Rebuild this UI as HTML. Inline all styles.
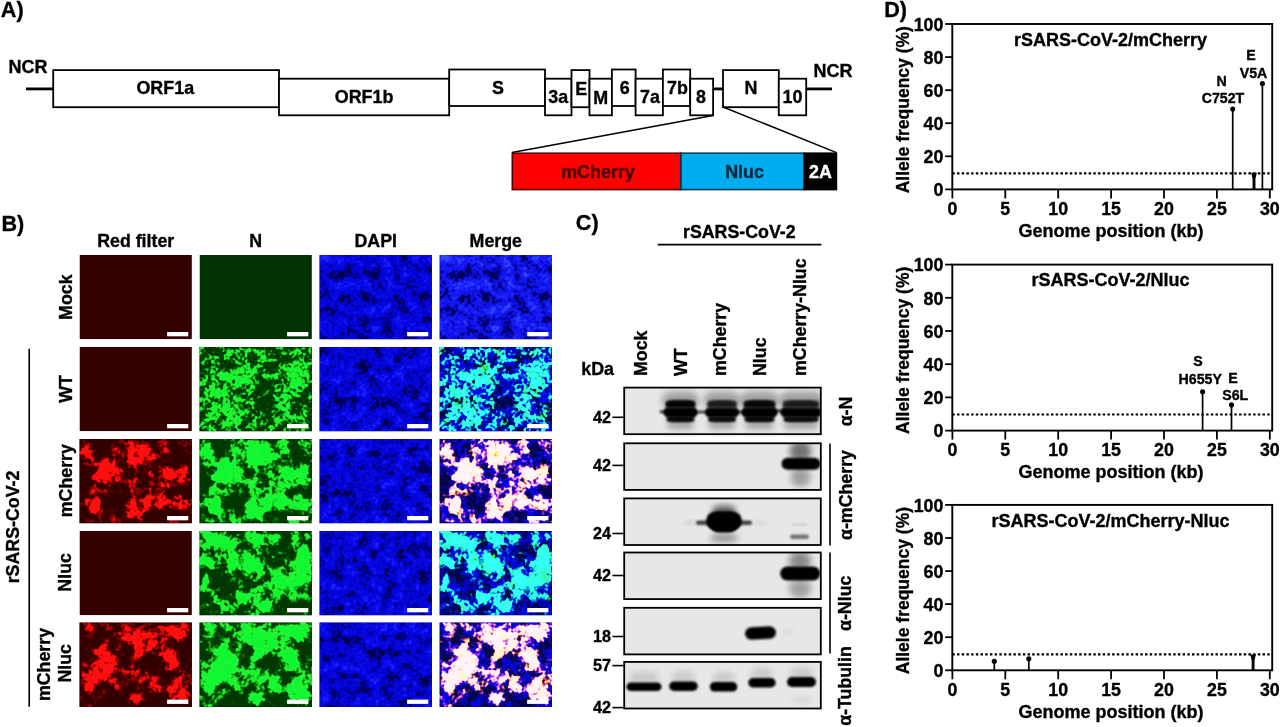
<!DOCTYPE html>
<html><head><meta charset="utf-8"><title>Figure</title>
<style>html,body{margin:0;padding:0;background:#fff}svg{display:block}text{font-family:"Liberation Sans",Arial,sans-serif;font-weight:bold;stroke-width:.35px;stroke-linejoin:round}</style></head><body>
<svg width="1280" height="727" viewBox="0 0 1280 727">
<defs><filter id="b1" x="-5%" y="-5%" width="110%" height="110%"><feGaussianBlur stdDeviation="0.7"/></filter><filter id="b2" x="-30%" y="-60%" width="160%" height="220%"><feGaussianBlur stdDeviation="1.3"/></filter><filter id="b3" x="-50%" y="-50%" width="200%" height="200%"><feGaussianBlur stdDeviation="3"/></filter></defs>
<rect width="1280" height="727" fill="#fff"/>
<defs><filter id="fd0" filterUnits="userSpaceOnUse" x="0" y="0" width="112.4" height="84.3" color-interpolation-filters="sRGB"><feTurbulence type="fractalNoise" baseFrequency="0.08" numOctaves="2" seed="5"/><feColorMatrix type="matrix" values="1 0 0 0 0 1 0 0 0 0 1 0 0 0 0 0 0 0 0 1" result="d1"/><feTurbulence type="fractalNoise" baseFrequency="0.32" numOctaves="1" seed="55"/><feColorMatrix type="matrix" values="1 0 0 0 0 1 0 0 0 0 1 0 0 0 0 0 0 0 0 1" result="d2"/><feComposite in="d1" in2="d2" operator="arithmetic" k2="1.5" k3="1.1" k4="-0.8" result="d"/><feComponentTransfer in="d"><feFuncR type="table" tableValues="0 0 0 0 0.01 0.02 0.02 0.03 0.04 0.07 0.1"/><feFuncG type="table" tableValues="0 0 0 0 0.01 0.02 0.02 0.03 0.05 0.09 0.13"/><feFuncB type="table" tableValues="0.28 0.32 0.42 0.62 0.79 0.85 0.87 0.89 0.93 0.97 1"/><feFuncA type="linear" slope="0" intercept="1"/></feComponentTransfer><feGaussianBlur stdDeviation="0.55"/></filter><filter id="fm0" filterUnits="userSpaceOnUse" x="0" y="0" width="112.4" height="84.3" color-interpolation-filters="sRGB"><feTurbulence type="fractalNoise" baseFrequency="0.08" numOctaves="2" seed="5"/><feColorMatrix type="matrix" values="1 0 0 0 0 1 0 0 0 0 1 0 0 0 0 0 0 0 0 1" result="d1"/><feTurbulence type="fractalNoise" baseFrequency="0.32" numOctaves="1" seed="55"/><feColorMatrix type="matrix" values="1 0 0 0 0 1 0 0 0 0 1 0 0 0 0 0 0 0 0 1" result="d2"/><feComposite in="d1" in2="d2" operator="arithmetic" k2="1.5" k3="1.1" k4="-0.8" result="d"/><feComponentTransfer in="d"><feFuncR type="table" tableValues="0 0 0 0.02 0.05 0.07 0.08 0.09 0.11 0.15 0.2"/><feFuncG type="table" tableValues="0 0 0.01 0.03 0.06 0.08 0.09 0.11 0.15 0.22 0.28"/><feFuncB type="table" tableValues="0.3 0.35 0.46 0.68 0.86 0.92 0.94 0.96 0.99 1 1"/><feFuncA type="linear" slope="0" intercept="1"/></feComponentTransfer><feGaussianBlur stdDeviation="0.55"/></filter><filter id="fg1" filterUnits="userSpaceOnUse" x="0" y="0" width="112.4" height="84.3" color-interpolation-filters="sRGB"><feGaussianBlur in="SourceGraphic" stdDeviation="3.2" result="m"/><feTurbulence type="fractalNoise" baseFrequency="0.12" numOctaves="2" seed="11"/><feColorMatrix type="matrix" values="1 0 0 0 0 1 0 0 0 0 1 0 0 0 0 0 0 0 0 1" result="n"/><feTurbulence type="fractalNoise" baseFrequency="0.33" numOctaves="1" seed="18"/><feColorMatrix type="matrix" values="1 0 0 0 0 1 0 0 0 0 1 0 0 0 0 0 0 0 0 1" result="h"/><feComposite in="n" in2="h" operator="arithmetic" k2="1.7" k3="1.5" k4="-1.1" result="nh"/><feComposite in="nh" in2="m" operator="arithmetic" k2="1" k3="0.9" k4="-0.55" result="s"/><feComponentTransfer in="s"><feFuncR type="table" tableValues="0 0 0 0 0.01 0.05 0.1 0.13 0.13 0.1 0.06"/><feFuncG type="table" tableValues="0.22 0.22 0.24 0.3 0.44 0.68 0.88 0.96 0.97 0.97 0.97"/><feFuncB type="table" tableValues="0 0 0.01 0.01 0.02 0.08 0.16 0.2 0.2 0.2 0.2"/><feFuncA type="linear" slope="0" intercept="1"/></feComponentTransfer><feGaussianBlur stdDeviation="0.55"/></filter><filter id="fd1" filterUnits="userSpaceOnUse" x="0" y="0" width="112.4" height="84.3" color-interpolation-filters="sRGB"><feTurbulence type="fractalNoise" baseFrequency="0.08" numOctaves="2" seed="9"/><feColorMatrix type="matrix" values="1 0 0 0 0 1 0 0 0 0 1 0 0 0 0 0 0 0 0 1" result="d1"/><feTurbulence type="fractalNoise" baseFrequency="0.32" numOctaves="1" seed="59"/><feColorMatrix type="matrix" values="1 0 0 0 0 1 0 0 0 0 1 0 0 0 0 0 0 0 0 1" result="d2"/><feComposite in="d1" in2="d2" operator="arithmetic" k2="1.5" k3="1.1" k4="-0.8" result="d"/><feComponentTransfer in="d"><feFuncR type="table" tableValues="0 0 0 0 0.01 0.02 0.02 0.03 0.04 0.07 0.1"/><feFuncG type="table" tableValues="0 0 0 0 0.01 0.02 0.02 0.03 0.05 0.09 0.13"/><feFuncB type="table" tableValues="0.28 0.32 0.42 0.62 0.79 0.85 0.87 0.89 0.93 0.97 1"/><feFuncA type="linear" slope="0" intercept="1"/></feComponentTransfer><feGaussianBlur stdDeviation="0.55"/></filter><filter id="fm1" filterUnits="userSpaceOnUse" x="0" y="0" width="112.4" height="84.3" color-interpolation-filters="sRGB"><feGaussianBlur in="SourceGraphic" stdDeviation="3.2" result="m"/><feTurbulence type="fractalNoise" baseFrequency="0.12" numOctaves="2" seed="11"/><feColorMatrix type="matrix" values="1 0 0 0 0 1 0 0 0 0 1 0 0 0 0 0 0 0 0 1" result="n"/><feTurbulence type="fractalNoise" baseFrequency="0.33" numOctaves="1" seed="18"/><feColorMatrix type="matrix" values="1 0 0 0 0 1 0 0 0 0 1 0 0 0 0 0 0 0 0 1" result="h"/><feComposite in="n" in2="h" operator="arithmetic" k2="1.7" k3="1.5" k4="-1.1" result="nh"/><feComposite in="nh" in2="m" operator="arithmetic" k2="1" k3="0.9" k4="-0.52" result="s"/><feTurbulence type="fractalNoise" baseFrequency="0.08" numOctaves="2" seed="9"/><feColorMatrix type="matrix" values="1 0 0 0 0 1 0 0 0 0 1 0 0 0 0 0 0 0 0 1" result="d1"/><feTurbulence type="fractalNoise" baseFrequency="0.32" numOctaves="1" seed="59"/><feColorMatrix type="matrix" values="1 0 0 0 0 1 0 0 0 0 1 0 0 0 0 0 0 0 0 1" result="d2"/><feComposite in="d1" in2="d2" operator="arithmetic" k2="1.5" k3="1.1" k4="-0.8" result="d"/><feColorMatrix in="s" type="matrix" values="1 0 0 0 0 0 1 0 0 0 0 0 0 0 0 0 0 0 0 1" result="s1"/><feColorMatrix in="d" type="matrix" values="0 0 0 0 0 0 0 0 0 0 0 0 1 0 0 0 0 0 0 1" result="d3"/><feComposite in="s1" in2="d3" operator="arithmetic" k2="1" k3="1" result="sd0"/><feColorMatrix in="sd0" type="matrix" values="1 0 0 0 0 0 1 0 0 0 0.6 0 1 0 -0.25 0 0 0 0 1" result="sd"/><feComponentTransfer in="sd"><feFuncR type="table" tableValues="0 0 0 0 0.02 0.06 0.14 0.2 0.2 0.2 0.2"/><feFuncG type="table" tableValues="0.02 0.02 0.03 0.06 0.2 0.6 0.95 1 1 1 1"/><feFuncB type="table" tableValues="0.28 0.32 0.42 0.62 0.79 0.85 0.87 0.89 0.93 0.97 1"/><feFuncA type="linear" slope="0" intercept="1"/></feComponentTransfer><feGaussianBlur stdDeviation="0.55"/></filter><filter id="fr2" filterUnits="userSpaceOnUse" x="0" y="0" width="112.4" height="84.3" color-interpolation-filters="sRGB"><feGaussianBlur in="SourceGraphic" stdDeviation="3.2" result="m"/><feTurbulence type="fractalNoise" baseFrequency="0.1" numOctaves="2" seed="23"/><feColorMatrix type="matrix" values="1 0 0 0 0 1 0 0 0 0 1 0 0 0 0 0 0 0 0 1" result="n"/><feTurbulence type="fractalNoise" baseFrequency="0.33" numOctaves="1" seed="30"/><feColorMatrix type="matrix" values="1 0 0 0 0 1 0 0 0 0 1 0 0 0 0 0 0 0 0 1" result="h"/><feComposite in="n" in2="h" operator="arithmetic" k2="2.0" k3="1.2" k4="-1.1" result="nh"/><feComposite in="nh" in2="m" operator="arithmetic" k2="1" k3="1.3" k4="-0.85" result="s"/><feComponentTransfer in="s"><feFuncR type="table" tableValues="0.2 0.2 0.22 0.26 0.34 0.46 0.62 0.86 1 1 1"/><feFuncG type="table" tableValues="0 0 0 0 0 0 0.01 0.02 0.05 0.06 0.06"/><feFuncB type="table" tableValues="0 0 0 0 0 0 0.01 0.02 0.05 0.06 0.06"/><feFuncA type="linear" slope="0" intercept="1"/></feComponentTransfer><feGaussianBlur stdDeviation="0.55"/></filter><filter id="fg2" filterUnits="userSpaceOnUse" x="0" y="0" width="112.4" height="84.3" color-interpolation-filters="sRGB"><feGaussianBlur in="SourceGraphic" stdDeviation="3.2" result="m"/><feTurbulence type="fractalNoise" baseFrequency="0.1" numOctaves="2" seed="23"/><feColorMatrix type="matrix" values="1 0 0 0 0 1 0 0 0 0 1 0 0 0 0 0 0 0 0 1" result="n"/><feTurbulence type="fractalNoise" baseFrequency="0.33" numOctaves="1" seed="30"/><feColorMatrix type="matrix" values="1 0 0 0 0 1 0 0 0 0 1 0 0 0 0 0 0 0 0 1" result="h"/><feComposite in="n" in2="h" operator="arithmetic" k2="2.0" k3="1.2" k4="-1.1" result="nh"/><feComposite in="nh" in2="m" operator="arithmetic" k2="1" k3="1.3" k4="-0.71" result="s"/><feComponentTransfer in="s"><feFuncR type="table" tableValues="0 0 0 0 0.01 0.05 0.1 0.13 0.13 0.1 0.06"/><feFuncG type="table" tableValues="0.22 0.22 0.24 0.3 0.44 0.68 0.88 0.96 0.97 0.97 0.97"/><feFuncB type="table" tableValues="0 0 0.01 0.01 0.02 0.08 0.16 0.2 0.2 0.2 0.2"/><feFuncA type="linear" slope="0" intercept="1"/></feComponentTransfer><feGaussianBlur stdDeviation="0.55"/></filter><filter id="fd2" filterUnits="userSpaceOnUse" x="0" y="0" width="112.4" height="84.3" color-interpolation-filters="sRGB"><feTurbulence type="fractalNoise" baseFrequency="0.08" numOctaves="2" seed="14"/><feColorMatrix type="matrix" values="1 0 0 0 0 1 0 0 0 0 1 0 0 0 0 0 0 0 0 1" result="d1"/><feTurbulence type="fractalNoise" baseFrequency="0.32" numOctaves="1" seed="64"/><feColorMatrix type="matrix" values="1 0 0 0 0 1 0 0 0 0 1 0 0 0 0 0 0 0 0 1" result="d2"/><feComposite in="d1" in2="d2" operator="arithmetic" k2="1.5" k3="1.1" k4="-0.8" result="d"/><feComponentTransfer in="d"><feFuncR type="table" tableValues="0 0 0 0 0.01 0.02 0.02 0.03 0.04 0.07 0.1"/><feFuncG type="table" tableValues="0 0 0 0 0.01 0.02 0.02 0.03 0.05 0.09 0.13"/><feFuncB type="table" tableValues="0.28 0.32 0.42 0.62 0.79 0.85 0.87 0.89 0.93 0.97 1"/><feFuncA type="linear" slope="0" intercept="1"/></feComponentTransfer><feGaussianBlur stdDeviation="0.55"/></filter><filter id="fm2" filterUnits="userSpaceOnUse" x="0" y="0" width="112.4" height="84.3" color-interpolation-filters="sRGB"><feGaussianBlur in="SourceGraphic" stdDeviation="3.2" result="m"/><feTurbulence type="fractalNoise" baseFrequency="0.1" numOctaves="2" seed="23"/><feColorMatrix type="matrix" values="1 0 0 0 0 1 0 0 0 0 1 0 0 0 0 0 0 0 0 1" result="n"/><feTurbulence type="fractalNoise" baseFrequency="0.33" numOctaves="1" seed="30"/><feColorMatrix type="matrix" values="1 0 0 0 0 1 0 0 0 0 1 0 0 0 0 0 0 0 0 1" result="h"/><feComposite in="n" in2="h" operator="arithmetic" k2="2.0" k3="1.2" k4="-1.1" result="nh"/><feComposite in="nh" in2="m" operator="arithmetic" k2="1" k3="1.3" k4="-0.79" result="s"/><feTurbulence type="fractalNoise" baseFrequency="0.08" numOctaves="2" seed="14"/><feColorMatrix type="matrix" values="1 0 0 0 0 1 0 0 0 0 1 0 0 0 0 0 0 0 0 1" result="d1"/><feTurbulence type="fractalNoise" baseFrequency="0.32" numOctaves="1" seed="64"/><feColorMatrix type="matrix" values="1 0 0 0 0 1 0 0 0 0 1 0 0 0 0 0 0 0 0 1" result="d2"/><feComposite in="d1" in2="d2" operator="arithmetic" k2="1.5" k3="1.1" k4="-0.8" result="d"/><feColorMatrix in="s" type="matrix" values="1 0 0 0 0 0 1 0 0 0 0 0 0 0 0 0 0 0 0 1" result="s1"/><feColorMatrix in="d" type="matrix" values="0 0 0 0 0 0 0 0 0 0 0 0 1 0 0 0 0 0 0 1" result="d3"/><feComposite in="s1" in2="d3" operator="arithmetic" k2="1" k3="1" result="sd0"/><feColorMatrix in="sd0" type="matrix" values="1 0 0 0 0 0 1 0 0 0 0.7 0 1 0 -0.3 0 0 0 0 1" result="sd"/><feComponentTransfer in="sd"><feFuncR type="table" tableValues="0.02 0.02 0.04 0.12 0.45 0.9 1 1 1 1 1"/><feFuncG type="table" tableValues="0.02 0.02 0.03 0.05 0.12 0.4 0.8 0.94 0.96 0.96 0.96"/><feFuncB type="table" tableValues="0.28 0.32 0.42 0.62 0.79 0.85 0.87 0.89 0.93 0.97 1"/><feFuncA type="linear" slope="0" intercept="1"/></feComponentTransfer><feGaussianBlur stdDeviation="0.55"/></filter><filter id="fg3" filterUnits="userSpaceOnUse" x="0" y="0" width="112.4" height="84.3" color-interpolation-filters="sRGB"><feGaussianBlur in="SourceGraphic" stdDeviation="3.2" result="m"/><feTurbulence type="fractalNoise" baseFrequency="0.11" numOctaves="2" seed="37"/><feColorMatrix type="matrix" values="1 0 0 0 0 1 0 0 0 0 1 0 0 0 0 0 0 0 0 1" result="n"/><feTurbulence type="fractalNoise" baseFrequency="0.33" numOctaves="1" seed="44"/><feColorMatrix type="matrix" values="1 0 0 0 0 1 0 0 0 0 1 0 0 0 0 0 0 0 0 1" result="h"/><feComposite in="n" in2="h" operator="arithmetic" k2="1.9" k3="1.3" k4="-1.1" result="nh"/><feComposite in="nh" in2="m" operator="arithmetic" k2="1" k3="1.2" k4="-0.66" result="s"/><feComponentTransfer in="s"><feFuncR type="table" tableValues="0 0 0 0 0.01 0.05 0.1 0.13 0.13 0.1 0.06"/><feFuncG type="table" tableValues="0.22 0.22 0.24 0.3 0.44 0.68 0.88 0.96 0.97 0.97 0.97"/><feFuncB type="table" tableValues="0 0 0.01 0.01 0.02 0.08 0.16 0.2 0.2 0.2 0.2"/><feFuncA type="linear" slope="0" intercept="1"/></feComponentTransfer><feGaussianBlur stdDeviation="0.55"/></filter><filter id="fd3" filterUnits="userSpaceOnUse" x="0" y="0" width="112.4" height="84.3" color-interpolation-filters="sRGB"><feTurbulence type="fractalNoise" baseFrequency="0.08" numOctaves="2" seed="19"/><feColorMatrix type="matrix" values="1 0 0 0 0 1 0 0 0 0 1 0 0 0 0 0 0 0 0 1" result="d1"/><feTurbulence type="fractalNoise" baseFrequency="0.32" numOctaves="1" seed="69"/><feColorMatrix type="matrix" values="1 0 0 0 0 1 0 0 0 0 1 0 0 0 0 0 0 0 0 1" result="d2"/><feComposite in="d1" in2="d2" operator="arithmetic" k2="1.5" k3="1.1" k4="-0.8" result="d"/><feComponentTransfer in="d"><feFuncR type="table" tableValues="0 0 0 0 0.01 0.02 0.02 0.03 0.04 0.07 0.1"/><feFuncG type="table" tableValues="0 0 0 0 0.01 0.02 0.02 0.03 0.05 0.09 0.13"/><feFuncB type="table" tableValues="0.28 0.32 0.42 0.62 0.79 0.85 0.87 0.89 0.93 0.97 1"/><feFuncA type="linear" slope="0" intercept="1"/></feComponentTransfer><feGaussianBlur stdDeviation="0.55"/></filter><filter id="fm3" filterUnits="userSpaceOnUse" x="0" y="0" width="112.4" height="84.3" color-interpolation-filters="sRGB"><feGaussianBlur in="SourceGraphic" stdDeviation="3.2" result="m"/><feTurbulence type="fractalNoise" baseFrequency="0.11" numOctaves="2" seed="37"/><feColorMatrix type="matrix" values="1 0 0 0 0 1 0 0 0 0 1 0 0 0 0 0 0 0 0 1" result="n"/><feTurbulence type="fractalNoise" baseFrequency="0.33" numOctaves="1" seed="44"/><feColorMatrix type="matrix" values="1 0 0 0 0 1 0 0 0 0 1 0 0 0 0 0 0 0 0 1" result="h"/><feComposite in="n" in2="h" operator="arithmetic" k2="1.9" k3="1.3" k4="-1.1" result="nh"/><feComposite in="nh" in2="m" operator="arithmetic" k2="1" k3="1.2" k4="-0.67" result="s"/><feTurbulence type="fractalNoise" baseFrequency="0.08" numOctaves="2" seed="19"/><feColorMatrix type="matrix" values="1 0 0 0 0 1 0 0 0 0 1 0 0 0 0 0 0 0 0 1" result="d1"/><feTurbulence type="fractalNoise" baseFrequency="0.32" numOctaves="1" seed="69"/><feColorMatrix type="matrix" values="1 0 0 0 0 1 0 0 0 0 1 0 0 0 0 0 0 0 0 1" result="d2"/><feComposite in="d1" in2="d2" operator="arithmetic" k2="1.5" k3="1.1" k4="-0.8" result="d"/><feColorMatrix in="s" type="matrix" values="1 0 0 0 0 0 1 0 0 0 0 0 0 0 0 0 0 0 0 1" result="s1"/><feColorMatrix in="d" type="matrix" values="0 0 0 0 0 0 0 0 0 0 0 0 1 0 0 0 0 0 0 1" result="d3"/><feComposite in="s1" in2="d3" operator="arithmetic" k2="1" k3="1" result="sd0"/><feColorMatrix in="sd0" type="matrix" values="1 0 0 0 0 0 1 0 0 0 0.6 0 1 0 -0.25 0 0 0 0 1" result="sd"/><feComponentTransfer in="sd"><feFuncR type="table" tableValues="0 0 0 0 0.02 0.06 0.14 0.2 0.2 0.2 0.2"/><feFuncG type="table" tableValues="0.02 0.02 0.03 0.06 0.2 0.6 0.95 1 1 1 1"/><feFuncB type="table" tableValues="0.28 0.32 0.42 0.62 0.79 0.85 0.87 0.89 0.93 0.97 1"/><feFuncA type="linear" slope="0" intercept="1"/></feComponentTransfer><feGaussianBlur stdDeviation="0.55"/></filter><filter id="fr4" filterUnits="userSpaceOnUse" x="0" y="0" width="112.4" height="84.3" color-interpolation-filters="sRGB"><feGaussianBlur in="SourceGraphic" stdDeviation="3.2" result="m"/><feTurbulence type="fractalNoise" baseFrequency="0.1" numOctaves="2" seed="41"/><feColorMatrix type="matrix" values="1 0 0 0 0 1 0 0 0 0 1 0 0 0 0 0 0 0 0 1" result="n"/><feTurbulence type="fractalNoise" baseFrequency="0.33" numOctaves="1" seed="48"/><feColorMatrix type="matrix" values="1 0 0 0 0 1 0 0 0 0 1 0 0 0 0 0 0 0 0 1" result="h"/><feComposite in="n" in2="h" operator="arithmetic" k2="2.0" k3="1.2" k4="-1.1" result="nh"/><feComposite in="nh" in2="m" operator="arithmetic" k2="1" k3="1.3" k4="-0.85" result="s"/><feComponentTransfer in="s"><feFuncR type="table" tableValues="0.2 0.2 0.22 0.26 0.34 0.46 0.62 0.86 1 1 1"/><feFuncG type="table" tableValues="0 0 0 0 0 0 0.01 0.02 0.05 0.06 0.06"/><feFuncB type="table" tableValues="0 0 0 0 0 0 0.01 0.02 0.05 0.06 0.06"/><feFuncA type="linear" slope="0" intercept="1"/></feComponentTransfer><feGaussianBlur stdDeviation="0.55"/></filter><filter id="fg4" filterUnits="userSpaceOnUse" x="0" y="0" width="112.4" height="84.3" color-interpolation-filters="sRGB"><feGaussianBlur in="SourceGraphic" stdDeviation="3.2" result="m"/><feTurbulence type="fractalNoise" baseFrequency="0.1" numOctaves="2" seed="41"/><feColorMatrix type="matrix" values="1 0 0 0 0 1 0 0 0 0 1 0 0 0 0 0 0 0 0 1" result="n"/><feTurbulence type="fractalNoise" baseFrequency="0.33" numOctaves="1" seed="48"/><feColorMatrix type="matrix" values="1 0 0 0 0 1 0 0 0 0 1 0 0 0 0 0 0 0 0 1" result="h"/><feComposite in="n" in2="h" operator="arithmetic" k2="2.0" k3="1.2" k4="-1.1" result="nh"/><feComposite in="nh" in2="m" operator="arithmetic" k2="1" k3="1.3" k4="-0.71" result="s"/><feComponentTransfer in="s"><feFuncR type="table" tableValues="0 0 0 0 0.01 0.05 0.1 0.13 0.13 0.1 0.06"/><feFuncG type="table" tableValues="0.22 0.22 0.24 0.3 0.44 0.68 0.88 0.96 0.97 0.97 0.97"/><feFuncB type="table" tableValues="0 0 0.01 0.01 0.02 0.08 0.16 0.2 0.2 0.2 0.2"/><feFuncA type="linear" slope="0" intercept="1"/></feComponentTransfer><feGaussianBlur stdDeviation="0.55"/></filter><filter id="fd4" filterUnits="userSpaceOnUse" x="0" y="0" width="112.4" height="84.3" color-interpolation-filters="sRGB"><feTurbulence type="fractalNoise" baseFrequency="0.08" numOctaves="2" seed="27"/><feColorMatrix type="matrix" values="1 0 0 0 0 1 0 0 0 0 1 0 0 0 0 0 0 0 0 1" result="d1"/><feTurbulence type="fractalNoise" baseFrequency="0.32" numOctaves="1" seed="77"/><feColorMatrix type="matrix" values="1 0 0 0 0 1 0 0 0 0 1 0 0 0 0 0 0 0 0 1" result="d2"/><feComposite in="d1" in2="d2" operator="arithmetic" k2="1.5" k3="1.1" k4="-0.8" result="d"/><feComponentTransfer in="d"><feFuncR type="table" tableValues="0 0 0 0 0.01 0.02 0.02 0.03 0.04 0.07 0.1"/><feFuncG type="table" tableValues="0 0 0 0 0.01 0.02 0.02 0.03 0.05 0.09 0.13"/><feFuncB type="table" tableValues="0.28 0.32 0.42 0.62 0.79 0.85 0.87 0.89 0.93 0.97 1"/><feFuncA type="linear" slope="0" intercept="1"/></feComponentTransfer><feGaussianBlur stdDeviation="0.55"/></filter><filter id="fm4" filterUnits="userSpaceOnUse" x="0" y="0" width="112.4" height="84.3" color-interpolation-filters="sRGB"><feGaussianBlur in="SourceGraphic" stdDeviation="3.2" result="m"/><feTurbulence type="fractalNoise" baseFrequency="0.1" numOctaves="2" seed="41"/><feColorMatrix type="matrix" values="1 0 0 0 0 1 0 0 0 0 1 0 0 0 0 0 0 0 0 1" result="n"/><feTurbulence type="fractalNoise" baseFrequency="0.33" numOctaves="1" seed="48"/><feColorMatrix type="matrix" values="1 0 0 0 0 1 0 0 0 0 1 0 0 0 0 0 0 0 0 1" result="h"/><feComposite in="n" in2="h" operator="arithmetic" k2="2.0" k3="1.2" k4="-1.1" result="nh"/><feComposite in="nh" in2="m" operator="arithmetic" k2="1" k3="1.3" k4="-0.79" result="s"/><feTurbulence type="fractalNoise" baseFrequency="0.08" numOctaves="2" seed="27"/><feColorMatrix type="matrix" values="1 0 0 0 0 1 0 0 0 0 1 0 0 0 0 0 0 0 0 1" result="d1"/><feTurbulence type="fractalNoise" baseFrequency="0.32" numOctaves="1" seed="77"/><feColorMatrix type="matrix" values="1 0 0 0 0 1 0 0 0 0 1 0 0 0 0 0 0 0 0 1" result="d2"/><feComposite in="d1" in2="d2" operator="arithmetic" k2="1.5" k3="1.1" k4="-0.8" result="d"/><feColorMatrix in="s" type="matrix" values="1 0 0 0 0 0 1 0 0 0 0 0 0 0 0 0 0 0 0 1" result="s1"/><feColorMatrix in="d" type="matrix" values="0 0 0 0 0 0 0 0 0 0 0 0 1 0 0 0 0 0 0 1" result="d3"/><feComposite in="s1" in2="d3" operator="arithmetic" k2="1" k3="1" result="sd0"/><feColorMatrix in="sd0" type="matrix" values="1 0 0 0 0 0 1 0 0 0 0.7 0 1 0 -0.3 0 0 0 0 1" result="sd"/><feComponentTransfer in="sd"><feFuncR type="table" tableValues="0.02 0.02 0.04 0.12 0.45 0.9 1 1 1 1 1"/><feFuncG type="table" tableValues="0.02 0.02 0.03 0.05 0.12 0.4 0.8 0.94 0.96 0.96 0.96"/><feFuncB type="table" tableValues="0.28 0.32 0.42 0.62 0.79 0.85 0.87 0.89 0.93 0.97 1"/><feFuncA type="linear" slope="0" intercept="1"/></feComponentTransfer><feGaussianBlur stdDeviation="0.55"/></filter></defs>
<text x="0.8" y="16.6" font-size="21.6" text-anchor="start" fill="#000" stroke="#000">A)</text>
<text x="8.6" y="72.9" font-size="18" text-anchor="start" fill="#000" stroke="#000">NCR</text>
<line x1="26" y1="88.9" x2="53" y2="88.9" stroke="#000" stroke-width="2.8"/>
<text x="813.6" y="76.8" font-size="18" text-anchor="start" fill="#000" stroke="#000">NCR</text>
<line x1="806" y1="88.9" x2="832" y2="88.9" stroke="#000" stroke-width="2.8"/>
<line x1="713" y1="88.9" x2="723" y2="88.9" stroke="#000" stroke-width="2.8"/>
<rect x="53.2" y="70.1" width="225.8" height="37.1" fill="#fff" stroke="#000" stroke-width="1.8"/>
<rect x="279" y="78.7" width="170.2" height="36.6" fill="#fff" stroke="#000" stroke-width="1.8"/>
<rect x="449.2" y="69.5" width="95.8" height="36.5" fill="#fff" stroke="#000" stroke-width="1.8"/>
<rect x="545" y="78.7" width="26.5" height="36.6" fill="#fff" stroke="#000" stroke-width="1.8"/>
<rect x="571.5" y="70.1" width="18.0" height="37.1" fill="#fff" stroke="#000" stroke-width="1.8"/>
<rect x="589.5" y="78.7" width="22.4" height="36.6" fill="#fff" stroke="#000" stroke-width="1.8"/>
<rect x="611.9" y="69.5" width="23.7" height="36.5" fill="#fff" stroke="#000" stroke-width="1.8"/>
<rect x="635.6" y="78.7" width="27.3" height="36.6" fill="#fff" stroke="#000" stroke-width="1.8"/>
<rect x="662.9" y="69.5" width="27.3" height="36.5" fill="#fff" stroke="#000" stroke-width="1.8"/>
<rect x="690.2" y="78.7" width="22.9" height="36.6" fill="#fff" stroke="#000" stroke-width="1.8"/>
<rect x="723" y="70.1" width="55.8" height="37.1" fill="#fff" stroke="#000" stroke-width="1.8"/>
<rect x="778.8" y="78.7" width="27.4" height="36.6" fill="#fff" stroke="#000" stroke-width="1.8"/>
<text x="165.3" y="94.0" font-size="17.9" text-anchor="middle" fill="#000" stroke="#000">ORF1a</text>
<text x="364.1" y="103.3" font-size="17.9" text-anchor="middle" fill="#000" stroke="#000">ORF1b</text>
<text x="497.9" y="93.9" font-size="17.9" text-anchor="middle" fill="#000" stroke="#000">S</text>
<text x="558.2" y="103.3" font-size="17.9" text-anchor="middle" fill="#000" stroke="#000">3a</text>
<text x="581.3" y="94.8" font-size="17.9" text-anchor="middle" fill="#000" stroke="#000">E</text>
<text x="600.7" y="103.7" font-size="17.9" text-anchor="middle" fill="#000" stroke="#000">M</text>
<text x="624.8" y="93.9" font-size="17.9" text-anchor="middle" fill="#000" stroke="#000">6</text>
<text x="649.9" y="102.8" font-size="17.9" text-anchor="middle" fill="#000" stroke="#000">7a</text>
<text x="677.5" y="93.9" font-size="17.9" text-anchor="middle" fill="#000" stroke="#000">7b</text>
<text x="701.1" y="102.5" font-size="17.9" text-anchor="middle" fill="#000" stroke="#000">8</text>
<text x="750.9" y="94.2" font-size="17.9" text-anchor="middle" fill="#000" stroke="#000">N</text>
<text x="792.5" y="103.2" font-size="17.9" text-anchor="middle" fill="#000" stroke="#000">10</text>
<line x1="713" y1="115.5" x2="512" y2="152.6" stroke="#000" stroke-width="1.5"/>
<line x1="723" y1="107" x2="836.5" y2="152.6" stroke="#000" stroke-width="1.5"/>
<rect x="512.3" y="153.2" width="168.7" height="36.4" fill="#fe0000" stroke="#5a0000" stroke-width="1.6"/>
<rect x="681" y="153.2" width="123.3" height="36.4" fill="#00aeef" stroke="#003a55" stroke-width="1.6"/>
<rect x="804.3" y="153.2" width="32.1" height="36.4" fill="#000" stroke="#000" stroke-width="1.6"/>
<text x="598" y="177.9" font-size="17.9" text-anchor="middle" fill="#4a0000" stroke="#4a0000">mCherry</text>
<text x="744.6" y="177.9" font-size="17.9" text-anchor="middle" fill="#00283c" stroke="#00283c">Nluc</text>
<text x="820.4" y="177.9" font-size="17.9" text-anchor="middle" fill="#fff" stroke="#fff">2A</text>
<text x="1.5" y="230.6" font-size="21.6" text-anchor="start" fill="#000" stroke="#000">B)</text>
<text x="135.7" y="246.8" font-size="17.8" text-anchor="middle" fill="#000" stroke="#000">Red filter</text>
<text x="255.7" y="246.8" font-size="17.8" text-anchor="middle" fill="#000" stroke="#000">N</text>
<text x="375.7" y="246.8" font-size="17.8" text-anchor="middle" fill="#000" stroke="#000">DAPI</text>
<text x="495.8" y="246.8" font-size="17.8" text-anchor="middle" fill="#000" stroke="#000">Merge</text>
<text x="72.0" y="297.15" font-size="17.8" text-anchor="middle" fill="#000" stroke="#000" transform="rotate(-90 72.0 297.15)">Mock</text>
<text x="71.6" y="388.84999999999997" font-size="17.8" text-anchor="middle" fill="#000" stroke="#000" transform="rotate(-90 71.6 388.84999999999997)">WT</text>
<text x="72.0" y="480.65" font-size="17.8" text-anchor="middle" fill="#000" stroke="#000" transform="rotate(-90 72.0 480.65)">mCherry</text>
<text x="70.8" y="572.35" font-size="17.8" text-anchor="middle" fill="#000" stroke="#000" transform="rotate(-90 70.8 572.35)">Nluc</text>
<text x="49.6" y="664.45" font-size="17.8" text-anchor="middle" fill="#000" stroke="#000" transform="rotate(-90 49.6 664.45)">mCherry</text>
<text x="70.8" y="663.25" font-size="17.8" text-anchor="middle" fill="#000" stroke="#000" transform="rotate(-90 70.8 663.25)">Nluc</text>
<text x="19.4" y="527" font-size="17.8" text-anchor="middle" fill="#000" stroke="#000" transform="rotate(-90 19.4 527)">rSARS-CoV-2</text>
<line x1="29.2" y1="348.8" x2="29.2" y2="706.7" stroke="#000" stroke-width="1.6"/>
<svg x="79.5" y="255" width="112.4" height="84.3" viewBox="0 0 112.4 84.3"><rect width="112.4" height="84.3" fill="#340000"/><rect x="87.6" y="77" width="21.2" height="4.3" fill="#fff"/></svg>
<svg x="199.5" y="255" width="112.4" height="84.3" viewBox="0 0 112.4 84.3"><rect width="112.4" height="84.3" fill="#013302"/><rect x="87.6" y="77" width="21.2" height="4.3" fill="#fff"/></svg>
<svg x="319.5" y="255" width="112.4" height="84.3" viewBox="0 0 112.4 84.3"><rect width="112.4" height="84.3" fill="#0a0ad0"/><g filter="url(#fd0)"><rect width="112.4" height="84.3" fill="#808080"/></g><rect x="87.6" y="77" width="21.2" height="4.3" fill="#fff"/></svg>
<svg x="439.6" y="255" width="112.4" height="84.3" viewBox="0 0 112.4 84.3"><rect width="112.4" height="84.3" fill="#1020e0"/><g filter="url(#fm0)"><rect width="112.4" height="84.3" fill="#808080"/></g><rect x="87.6" y="77" width="21.2" height="4.3" fill="#fff"/></svg>
<svg x="79.5" y="347" width="112.4" height="84.3" viewBox="0 0 112.4 84.3"><rect width="112.4" height="84.3" fill="#340000"/><rect x="87.6" y="77" width="21.2" height="4.3" fill="#fff"/></svg>
<svg x="199.5" y="347" width="112.4" height="84.3" viewBox="0 0 112.4 84.3"><rect width="112.4" height="84.3" fill="#003a02"/><g filter="url(#fg1)"><rect width="112.4" height="84.3" fill="#808080"/><ellipse cx="100" cy="26" rx="10" ry="12" fill="#ffffff"/><ellipse cx="38" cy="30" rx="22" ry="7" fill="#ffffff"/><ellipse cx="20" cy="50" rx="8" ry="20" fill="#e6e6e6"/><ellipse cx="85" cy="52" rx="8" ry="10" fill="#e6e6e6"/><ellipse cx="35" cy="70" rx="15" ry="8" fill="#e6e6e6"/><ellipse cx="63" cy="48" rx="8" ry="20" fill="#000000"/><ellipse cx="28" cy="18" rx="10" ry="5" fill="#000000"/><ellipse cx="8" cy="10" rx="6" ry="8" fill="#1a1a1a"/><ellipse cx="75" cy="15" rx="6" ry="8" fill="#1a1a1a"/><ellipse cx="50" cy="76" rx="8" ry="6" fill="#1a1a1a"/><ellipse cx="100" cy="62" rx="8" ry="8" fill="#333333"/></g><rect x="87.6" y="77" width="21.2" height="4.3" fill="#fff"/></svg>
<svg x="319.5" y="347" width="112.4" height="84.3" viewBox="0 0 112.4 84.3"><rect width="112.4" height="84.3" fill="#0a0ad0"/><g filter="url(#fd1)"><rect width="112.4" height="84.3" fill="#808080"/></g><rect x="87.6" y="77" width="21.2" height="4.3" fill="#fff"/></svg>
<svg x="439.6" y="347" width="112.4" height="84.3" viewBox="0 0 112.4 84.3"><rect width="112.4" height="84.3" fill="#1020c0"/><g filter="url(#fm1)"><rect width="112.4" height="84.3" fill="#808080"/><ellipse cx="100" cy="26" rx="10" ry="12" fill="#ffffff"/><ellipse cx="38" cy="30" rx="22" ry="7" fill="#ffffff"/><ellipse cx="20" cy="50" rx="8" ry="20" fill="#e6e6e6"/><ellipse cx="85" cy="52" rx="8" ry="10" fill="#e6e6e6"/><ellipse cx="35" cy="70" rx="15" ry="8" fill="#e6e6e6"/><ellipse cx="63" cy="48" rx="8" ry="20" fill="#000000"/><ellipse cx="28" cy="18" rx="10" ry="5" fill="#000000"/><ellipse cx="8" cy="10" rx="6" ry="8" fill="#1a1a1a"/><ellipse cx="75" cy="15" rx="6" ry="8" fill="#1a1a1a"/><ellipse cx="50" cy="76" rx="8" ry="6" fill="#1a1a1a"/><ellipse cx="100" cy="62" rx="8" ry="8" fill="#333333"/></g><rect x="87.6" y="77" width="21.2" height="4.3" fill="#fff"/></svg>
<svg x="79.5" y="439" width="112.4" height="84.3" viewBox="0 0 112.4 84.3"><rect width="112.4" height="84.3" fill="#340000"/><g filter="url(#fr2)"><rect width="112.4" height="84.3" fill="#808080"/><ellipse cx="28" cy="36" rx="14" ry="12" fill="#ffffff"/><ellipse cx="8" cy="13" rx="6" ry="7" fill="#ffffff"/><ellipse cx="58" cy="15" rx="18" ry="9" fill="#ffffff"/><ellipse cx="94" cy="35" rx="16" ry="7" fill="#ffffff"/><ellipse cx="73" cy="61" rx="10" ry="10" fill="#ffffff"/><ellipse cx="17" cy="66" rx="7" ry="10" fill="#ffffff"/><ellipse cx="102" cy="65" rx="8" ry="7" fill="#ffffff"/><ellipse cx="54" cy="74" rx="8" ry="8" fill="#ffffff"/><ellipse cx="100" cy="19" rx="8" ry="10" fill="#000000"/><ellipse cx="36" cy="61" rx="11" ry="11" fill="#000000"/><ellipse cx="104" cy="50" rx="8" ry="6" fill="#000000"/><ellipse cx="4" cy="38" rx="5" ry="15" fill="#000000"/><ellipse cx="21" cy="10" rx="7" ry="8" fill="#000000"/><ellipse cx="51" cy="33" rx="5" ry="5" fill="#000000"/><ellipse cx="75" cy="80" rx="12" ry="4" fill="#000000"/></g><rect x="87.6" y="77" width="21.2" height="4.3" fill="#fff"/></svg>
<svg x="199.5" y="439" width="112.4" height="84.3" viewBox="0 0 112.4 84.3"><rect width="112.4" height="84.3" fill="#003a02"/><g filter="url(#fg2)"><rect width="112.4" height="84.3" fill="#808080"/><ellipse cx="28" cy="36" rx="14" ry="12" fill="#ffffff"/><ellipse cx="8" cy="13" rx="6" ry="7" fill="#ffffff"/><ellipse cx="58" cy="15" rx="18" ry="9" fill="#ffffff"/><ellipse cx="94" cy="35" rx="16" ry="7" fill="#ffffff"/><ellipse cx="73" cy="61" rx="10" ry="10" fill="#ffffff"/><ellipse cx="17" cy="66" rx="7" ry="10" fill="#ffffff"/><ellipse cx="102" cy="65" rx="8" ry="7" fill="#ffffff"/><ellipse cx="54" cy="74" rx="8" ry="8" fill="#ffffff"/><ellipse cx="100" cy="19" rx="8" ry="10" fill="#000000"/><ellipse cx="36" cy="61" rx="11" ry="11" fill="#000000"/><ellipse cx="104" cy="50" rx="8" ry="6" fill="#000000"/><ellipse cx="4" cy="38" rx="5" ry="15" fill="#000000"/><ellipse cx="21" cy="10" rx="7" ry="8" fill="#000000"/><ellipse cx="51" cy="33" rx="5" ry="5" fill="#000000"/><ellipse cx="75" cy="80" rx="12" ry="4" fill="#000000"/></g><rect x="87.6" y="77" width="21.2" height="4.3" fill="#fff"/></svg>
<svg x="319.5" y="439" width="112.4" height="84.3" viewBox="0 0 112.4 84.3"><rect width="112.4" height="84.3" fill="#0a0ad0"/><g filter="url(#fd2)"><rect width="112.4" height="84.3" fill="#808080"/></g><rect x="87.6" y="77" width="21.2" height="4.3" fill="#fff"/></svg>
<svg x="439.6" y="439" width="112.4" height="84.3" viewBox="0 0 112.4 84.3"><rect width="112.4" height="84.3" fill="#1020c0"/><g filter="url(#fm2)"><rect width="112.4" height="84.3" fill="#808080"/><ellipse cx="28" cy="36" rx="14" ry="12" fill="#ffffff"/><ellipse cx="8" cy="13" rx="6" ry="7" fill="#ffffff"/><ellipse cx="58" cy="15" rx="18" ry="9" fill="#ffffff"/><ellipse cx="94" cy="35" rx="16" ry="7" fill="#ffffff"/><ellipse cx="73" cy="61" rx="10" ry="10" fill="#ffffff"/><ellipse cx="17" cy="66" rx="7" ry="10" fill="#ffffff"/><ellipse cx="102" cy="65" rx="8" ry="7" fill="#ffffff"/><ellipse cx="54" cy="74" rx="8" ry="8" fill="#ffffff"/><ellipse cx="100" cy="19" rx="8" ry="10" fill="#000000"/><ellipse cx="36" cy="61" rx="11" ry="11" fill="#000000"/><ellipse cx="104" cy="50" rx="8" ry="6" fill="#000000"/><ellipse cx="4" cy="38" rx="5" ry="15" fill="#000000"/><ellipse cx="21" cy="10" rx="7" ry="8" fill="#000000"/><ellipse cx="51" cy="33" rx="5" ry="5" fill="#000000"/><ellipse cx="75" cy="80" rx="12" ry="4" fill="#000000"/></g><rect x="87.6" y="77" width="21.2" height="4.3" fill="#fff"/></svg>
<svg x="79.5" y="531" width="112.4" height="84.3" viewBox="0 0 112.4 84.3"><rect width="112.4" height="84.3" fill="#340000"/><rect x="87.6" y="77" width="21.2" height="4.3" fill="#fff"/></svg>
<svg x="199.5" y="531" width="112.4" height="84.3" viewBox="0 0 112.4 84.3"><rect width="112.4" height="84.3" fill="#003a02"/><g filter="url(#fg3)"><rect width="112.4" height="84.3" fill="#808080"/><ellipse cx="19" cy="9" rx="16" ry="8" fill="#ffffff"/><ellipse cx="61" cy="8" rx="15" ry="7" fill="#ffffff"/><ellipse cx="47" cy="32" rx="18" ry="9" fill="#ffffff"/><ellipse cx="104" cy="32" rx="8" ry="20" fill="#ffffff"/><ellipse cx="85" cy="54" rx="15" ry="10" fill="#ffffff"/><ellipse cx="6" cy="29" rx="6" ry="7" fill="#ffffff"/><ellipse cx="8" cy="50" rx="7" ry="6" fill="#ffffff"/><ellipse cx="66" cy="74" rx="7" ry="8" fill="#ffffff"/><ellipse cx="47" cy="66" rx="9" ry="6" fill="#ffffff"/><ellipse cx="15" cy="69" rx="4" ry="6" fill="#ffffff"/><ellipse cx="67" cy="22" rx="5" ry="13" fill="#000000"/><ellipse cx="85" cy="19" rx="10" ry="13" fill="#1a1a1a"/><ellipse cx="22" cy="52" rx="13" ry="14" fill="#0d0d0d"/><ellipse cx="46" cy="52" rx="12" ry="8" fill="#1a1a1a"/><ellipse cx="92" cy="76" rx="19" ry="9" fill="#000000"/><ellipse cx="4" cy="71" rx="5" ry="13" fill="#000000"/><ellipse cx="47" cy="15" rx="6" ry="4" fill="#000000"/></g><rect x="87.6" y="77" width="21.2" height="4.3" fill="#fff"/></svg>
<svg x="319.5" y="531" width="112.4" height="84.3" viewBox="0 0 112.4 84.3"><rect width="112.4" height="84.3" fill="#0a0ad0"/><g filter="url(#fd3)"><rect width="112.4" height="84.3" fill="#808080"/></g><rect x="87.6" y="77" width="21.2" height="4.3" fill="#fff"/></svg>
<svg x="439.6" y="531" width="112.4" height="84.3" viewBox="0 0 112.4 84.3"><rect width="112.4" height="84.3" fill="#1020c0"/><g filter="url(#fm3)"><rect width="112.4" height="84.3" fill="#808080"/><ellipse cx="19" cy="9" rx="16" ry="8" fill="#ffffff"/><ellipse cx="61" cy="8" rx="15" ry="7" fill="#ffffff"/><ellipse cx="47" cy="32" rx="18" ry="9" fill="#ffffff"/><ellipse cx="104" cy="32" rx="8" ry="20" fill="#ffffff"/><ellipse cx="85" cy="54" rx="15" ry="10" fill="#ffffff"/><ellipse cx="6" cy="29" rx="6" ry="7" fill="#ffffff"/><ellipse cx="8" cy="50" rx="7" ry="6" fill="#ffffff"/><ellipse cx="66" cy="74" rx="7" ry="8" fill="#ffffff"/><ellipse cx="47" cy="66" rx="9" ry="6" fill="#ffffff"/><ellipse cx="15" cy="69" rx="4" ry="6" fill="#ffffff"/><ellipse cx="67" cy="22" rx="5" ry="13" fill="#000000"/><ellipse cx="85" cy="19" rx="10" ry="13" fill="#1a1a1a"/><ellipse cx="22" cy="52" rx="13" ry="14" fill="#0d0d0d"/><ellipse cx="46" cy="52" rx="12" ry="8" fill="#1a1a1a"/><ellipse cx="92" cy="76" rx="19" ry="9" fill="#000000"/><ellipse cx="4" cy="71" rx="5" ry="13" fill="#000000"/><ellipse cx="47" cy="15" rx="6" ry="4" fill="#000000"/></g><rect x="87.6" y="77" width="21.2" height="4.3" fill="#fff"/></svg>
<svg x="79.5" y="622.6" width="112.4" height="84.3" viewBox="0 0 112.4 84.3"><rect width="112.4" height="84.3" fill="#340000"/><g filter="url(#fr4)"><rect width="112.4" height="84.3" fill="#808080"/><ellipse cx="61" cy="15" rx="20" ry="9" fill="#ffffff"/><ellipse cx="97" cy="9" rx="14" ry="6" fill="#ffffff"/><ellipse cx="8" cy="4" rx="7" ry="4" fill="#ffffff"/><ellipse cx="25" cy="42" rx="13" ry="19" fill="#ffffff"/><ellipse cx="8" cy="60" rx="7" ry="10" fill="#ffffff"/><ellipse cx="90" cy="35" rx="8" ry="12" fill="#ffffff"/><ellipse cx="56" cy="54" rx="10" ry="7" fill="#ffffff"/><ellipse cx="94" cy="64" rx="18" ry="8" fill="#ffffff"/><ellipse cx="58" cy="77" rx="6" ry="5" fill="#ffffff"/><ellipse cx="59" cy="30" rx="7" ry="5" fill="#ffffff"/><ellipse cx="20" cy="13" rx="9" ry="7" fill="#000000"/><ellipse cx="47" cy="33" rx="6" ry="12" fill="#000000"/><ellipse cx="68" cy="41" rx="13" ry="6" fill="#000000"/><ellipse cx="105" cy="27" rx="7" ry="6" fill="#000000"/><ellipse cx="87" cy="56" rx="7" ry="7" fill="#000000"/><ellipse cx="50" cy="67" rx="6" ry="6" fill="#000000"/><ellipse cx="33" cy="78" rx="16" ry="7" fill="#000000"/><ellipse cx="78" cy="79" rx="10" ry="6" fill="#000000"/><ellipse cx="5" cy="33" rx="5" ry="6" fill="#000000"/></g><rect x="87.6" y="77" width="21.2" height="4.3" fill="#fff"/></svg>
<svg x="199.5" y="622.6" width="112.4" height="84.3" viewBox="0 0 112.4 84.3"><rect width="112.4" height="84.3" fill="#003a02"/><g filter="url(#fg4)"><rect width="112.4" height="84.3" fill="#808080"/><ellipse cx="61" cy="15" rx="20" ry="9" fill="#ffffff"/><ellipse cx="97" cy="9" rx="14" ry="6" fill="#ffffff"/><ellipse cx="8" cy="4" rx="7" ry="4" fill="#ffffff"/><ellipse cx="25" cy="42" rx="13" ry="19" fill="#ffffff"/><ellipse cx="8" cy="60" rx="7" ry="10" fill="#ffffff"/><ellipse cx="90" cy="35" rx="8" ry="12" fill="#ffffff"/><ellipse cx="56" cy="54" rx="10" ry="7" fill="#ffffff"/><ellipse cx="94" cy="64" rx="18" ry="8" fill="#ffffff"/><ellipse cx="58" cy="77" rx="6" ry="5" fill="#ffffff"/><ellipse cx="59" cy="30" rx="7" ry="5" fill="#ffffff"/><ellipse cx="20" cy="13" rx="9" ry="7" fill="#000000"/><ellipse cx="47" cy="33" rx="6" ry="12" fill="#000000"/><ellipse cx="68" cy="41" rx="13" ry="6" fill="#000000"/><ellipse cx="105" cy="27" rx="7" ry="6" fill="#000000"/><ellipse cx="87" cy="56" rx="7" ry="7" fill="#000000"/><ellipse cx="50" cy="67" rx="6" ry="6" fill="#000000"/><ellipse cx="33" cy="78" rx="16" ry="7" fill="#000000"/><ellipse cx="78" cy="79" rx="10" ry="6" fill="#000000"/><ellipse cx="5" cy="33" rx="5" ry="6" fill="#000000"/></g><rect x="87.6" y="77" width="21.2" height="4.3" fill="#fff"/></svg>
<svg x="319.5" y="622.6" width="112.4" height="84.3" viewBox="0 0 112.4 84.3"><rect width="112.4" height="84.3" fill="#0a0ad0"/><g filter="url(#fd4)"><rect width="112.4" height="84.3" fill="#808080"/></g><rect x="87.6" y="77" width="21.2" height="4.3" fill="#fff"/></svg>
<svg x="439.6" y="622.6" width="112.4" height="84.3" viewBox="0 0 112.4 84.3"><rect width="112.4" height="84.3" fill="#1020c0"/><g filter="url(#fm4)"><rect width="112.4" height="84.3" fill="#808080"/><ellipse cx="61" cy="15" rx="20" ry="9" fill="#ffffff"/><ellipse cx="97" cy="9" rx="14" ry="6" fill="#ffffff"/><ellipse cx="8" cy="4" rx="7" ry="4" fill="#ffffff"/><ellipse cx="25" cy="42" rx="13" ry="19" fill="#ffffff"/><ellipse cx="8" cy="60" rx="7" ry="10" fill="#ffffff"/><ellipse cx="90" cy="35" rx="8" ry="12" fill="#ffffff"/><ellipse cx="56" cy="54" rx="10" ry="7" fill="#ffffff"/><ellipse cx="94" cy="64" rx="18" ry="8" fill="#ffffff"/><ellipse cx="58" cy="77" rx="6" ry="5" fill="#ffffff"/><ellipse cx="59" cy="30" rx="7" ry="5" fill="#ffffff"/><ellipse cx="20" cy="13" rx="9" ry="7" fill="#000000"/><ellipse cx="47" cy="33" rx="6" ry="12" fill="#000000"/><ellipse cx="68" cy="41" rx="13" ry="6" fill="#000000"/><ellipse cx="105" cy="27" rx="7" ry="6" fill="#000000"/><ellipse cx="87" cy="56" rx="7" ry="7" fill="#000000"/><ellipse cx="50" cy="67" rx="6" ry="6" fill="#000000"/><ellipse cx="33" cy="78" rx="16" ry="7" fill="#000000"/><ellipse cx="78" cy="79" rx="10" ry="6" fill="#000000"/><ellipse cx="5" cy="33" rx="5" ry="6" fill="#000000"/></g><rect x="87.6" y="77" width="21.2" height="4.3" fill="#fff"/></svg>
<text x="575.8" y="230.2" font-size="21.6" text-anchor="start" fill="#000" stroke="#000">C)</text>
<text x="739.3" y="238" font-size="17.8" text-anchor="middle" fill="#000" stroke="#000">rSARS-CoV-2</text>
<line x1="657.7" y1="244.6" x2="821.4" y2="244.6" stroke="#000" stroke-width="1.6"/>
<text x="581.3" y="374.6" font-size="17.8" text-anchor="start" fill="#000" stroke="#000">kDa</text>
<text x="647" y="376.0" font-size="17.8" text-anchor="start" fill="#000" stroke="#000" transform="rotate(-90 647 376.0)">Mock</text>
<text x="686.6" y="376.0" font-size="17.8" text-anchor="start" fill="#000" stroke="#000" transform="rotate(-90 686.6 376.0)">WT</text>
<text x="725.8" y="376.0" font-size="17.8" text-anchor="start" fill="#000" stroke="#000" transform="rotate(-90 725.8 376.0)">mCherry</text>
<text x="765.9" y="376.0" font-size="17.8" text-anchor="start" fill="#000" stroke="#000" transform="rotate(-90 765.9 376.0)">Nluc</text>
<text x="805.7" y="376.0" font-size="17.8" text-anchor="start" fill="#000" stroke="#000" transform="rotate(-90 805.7 376.0)">mCherry-Nluc</text>
<svg x="624.2" y="387.6" width="196.6" height="46.6" viewBox="624.2 387.6 196.6 46.6"><rect x="624.2" y="387.6" width="196.6" height="46.6" fill="#e7e7e7"/><rect x="662.0" y="391.6" width="37" height="18" rx="9.0" fill="#000" opacity="0.3" filter="url(#b3)"/><rect x="665.0" y="400.1" width="31" height="22" rx="11.0" fill="#000" opacity="0.6" filter="url(#b2)"/><rect x="665.5" y="400.6" width="30" height="7" rx="3.5" fill="#000" opacity="0.95" filter="url(#b2)"/><rect x="663.5" y="408.1" width="34" height="9" rx="4.5" fill="#000" opacity="1" filter="url(#b2)"/><rect x="666.5" y="416.4" width="28" height="5.5" rx="2.75" fill="#000" opacity="0.9" filter="url(#b2)"/><rect x="667.0" y="420.1" width="27" height="9" rx="4.5" fill="#000" opacity="0.3" filter="url(#b3)"/><rect x="703.5" y="391.6" width="37" height="18" rx="9.0" fill="#000" opacity="0.3" filter="url(#b3)"/><rect x="706.5" y="400.1" width="31" height="22" rx="11.0" fill="#000" opacity="0.45" filter="url(#b2)"/><rect x="707.0" y="400.6" width="30" height="7" rx="3.5" fill="#000" opacity="0.7" filter="url(#b2)"/><rect x="705.0" y="408.1" width="34" height="9" rx="4.5" fill="#000" opacity="1" filter="url(#b2)"/><rect x="708.0" y="416.4" width="28" height="5.5" rx="2.75" fill="#000" opacity="0.9" filter="url(#b2)"/><rect x="708.5" y="420.1" width="27" height="9" rx="4.5" fill="#000" opacity="0.3" filter="url(#b3)"/><rect x="740.0" y="391.6" width="39" height="18" rx="9.0" fill="#000" opacity="0.3" filter="url(#b3)"/><rect x="743.0" y="400.1" width="33" height="22" rx="11.0" fill="#000" opacity="0.6" filter="url(#b2)"/><rect x="743.5" y="400.6" width="32" height="7" rx="3.5" fill="#000" opacity="0.9" filter="url(#b2)"/><rect x="741.5" y="408.1" width="36" height="9" rx="4.5" fill="#000" opacity="1" filter="url(#b2)"/><rect x="744.5" y="416.4" width="30" height="5.5" rx="2.75" fill="#000" opacity="0.9" filter="url(#b2)"/><rect x="745.0" y="420.1" width="29" height="9" rx="4.5" fill="#000" opacity="0.3" filter="url(#b3)"/><rect x="779.0" y="391.6" width="44" height="18" rx="9.0" fill="#000" opacity="0.3" filter="url(#b3)"/><rect x="782.0" y="400.1" width="38" height="22" rx="11.0" fill="#000" opacity="0.45" filter="url(#b2)"/><rect x="782.5" y="400.6" width="37" height="7" rx="3.5" fill="#000" opacity="0.7" filter="url(#b2)"/><rect x="780.5" y="408.1" width="41" height="9" rx="4.5" fill="#000" opacity="1" filter="url(#b2)"/><rect x="783.5" y="416.4" width="35" height="5.5" rx="2.75" fill="#000" opacity="0.9" filter="url(#b2)"/><rect x="784.0" y="420.1" width="34" height="9" rx="4.5" fill="#000" opacity="0.3" filter="url(#b3)"/><rect x="676.0" y="410.6" width="50" height="3" rx="1.5" fill="#000" opacity="0.7" filter="url(#b2)"/><rect x="727.0" y="410.6" width="30" height="3" rx="1.5" fill="#000" opacity="0.8" filter="url(#b2)"/><rect x="766.0" y="409.6" width="30" height="3" rx="1.5" fill="#000" opacity="0.8" filter="url(#b2)"/><rect x="659.5" y="410.3" width="9" height="3" rx="1.5" fill="#000" opacity="0.8" filter="url(#b2)"/></svg>
<rect x="624.2" y="387.6" width="196.6" height="46.6" fill="none" stroke="#000" stroke-width="1.8"/>
<svg x="624.2" y="443.3" width="196.6" height="46.6" viewBox="624.2 443.3 196.6 46.6"><rect x="624.2" y="443.3" width="196.6" height="46.6" fill="#e7e7e7"/><rect x="789.5" y="441.3" width="22" height="20" rx="10.0" fill="#000" opacity="0.5" filter="url(#b3)"/><rect x="781.5" y="457.8" width="39" height="12" rx="6.0" fill="#000" opacity="1" filter="url(#b2)"/><rect x="790.5" y="467.3" width="20" height="20" rx="10.0" fill="#000" opacity="0.3" filter="url(#b3)"/></svg>
<rect x="624.2" y="443.3" width="196.6" height="46.6" fill="none" stroke="#000" stroke-width="1.8"/>
<svg x="624.2" y="498.4" width="196.6" height="46.6" viewBox="624.2 498.4 196.6 46.6"><rect x="624.2" y="498.4" width="196.6" height="46.6" fill="#e7e7e7"/><rect x="712.0" y="505.4" width="24" height="14" rx="7.0" fill="#000" opacity="0.6" filter="url(#b3)"/><rect x="706.0" y="511.4" width="36" height="19" rx="9.5" fill="#000" opacity="1" filter="url(#b2)"/><rect x="709.0" y="512.4" width="30" height="20" rx="10.0" fill="#000" opacity="1" filter="url(#b2)"/><rect x="696.0" y="520.6" width="56" height="4.5" rx="2.25" fill="#000" opacity="0.7" filter="url(#b2)"/><rect x="685.0" y="521.4" width="10" height="3" rx="1.5" fill="#000" opacity="0.2" filter="url(#b3)"/><rect x="754.0" y="521.4" width="12" height="3" rx="1.5" fill="#000" opacity="0.15" filter="url(#b3)"/><rect x="711.0" y="534.4" width="26" height="7" rx="3.5" fill="#000" opacity="0.4" filter="url(#b3)"/><rect x="790.0" y="534.6" width="19" height="4.5" rx="2.25" fill="#000" opacity="0.5" filter="url(#b2)"/><rect x="791.5" y="523.4" width="16" height="2" rx="1.0" fill="#000" opacity="0.12" filter="url(#b2)"/></svg>
<rect x="624.2" y="498.4" width="196.6" height="46.6" fill="none" stroke="#000" stroke-width="1.8"/>
<svg x="624.2" y="552.5" width="196.6" height="46.6" viewBox="624.2 552.5 196.6 46.6"><rect x="624.2" y="552.5" width="196.6" height="46.6" fill="#e7e7e7"/><rect x="789.0" y="551.5" width="22" height="18" rx="9.0" fill="#000" opacity="0.4" filter="url(#b3)"/><rect x="780.2" y="566.5" width="40" height="14" rx="7.0" fill="#000" opacity="1" filter="url(#b2)"/><rect x="789.0" y="579.5" width="22" height="18" rx="9.0" fill="#000" opacity="0.3" filter="url(#b3)"/></svg>
<rect x="624.2" y="552.5" width="196.6" height="46.6" fill="none" stroke="#000" stroke-width="1.8"/>
<svg x="624.2" y="607.8" width="196.6" height="46.6" viewBox="624.2 607.8 196.6 46.6"><rect x="624.2" y="607.8" width="196.6" height="46.6" fill="#e7e7e7"/><g transform="rotate(-3 760.5 633.0999999999999)"><rect x="745.0" y="626.8" width="31" height="12.5" rx="6.25" fill="#000" opacity="1" filter="url(#b2)"/></g><rect x="785.0" y="629.8" width="8" height="4" rx="2.0" fill="#000" opacity="0.1" filter="url(#b3)"/></svg>
<rect x="624.2" y="607.8" width="196.6" height="46.6" fill="none" stroke="#000" stroke-width="1.8"/>
<svg x="624.2" y="661.9" width="196.6" height="46.6" viewBox="624.2 661.9 196.6 46.6"><rect x="624.2" y="661.9" width="196.6" height="46.6" fill="#e7e7e7"/><rect x="626.5" y="682.4" width="35" height="8.5" rx="4.25" fill="#000" opacity="1" filter="url(#b2)"/><rect x="629.5" y="671.6" width="29" height="12" rx="6.0" fill="#000" opacity="0.12" filter="url(#b3)"/><rect x="669.2" y="681.4" width="28.5" height="9.5" rx="4.75" fill="#000" opacity="1" filter="url(#b2)"/><rect x="672.2" y="671.2" width="22.5" height="12" rx="6.0" fill="#000" opacity="0.12" filter="url(#b3)"/><rect x="709.8" y="682.1" width="27.5" height="9.5" rx="4.75" fill="#000" opacity="1" filter="url(#b2)"/><rect x="712.8" y="671.9" width="21.5" height="12" rx="6.0" fill="#000" opacity="0.12" filter="url(#b3)"/><rect x="748.2" y="678.0" width="27.5" height="9.5" rx="4.75" fill="#000" opacity="1" filter="url(#b2)"/><rect x="751.2" y="667.8" width="21.5" height="12" rx="6.0" fill="#000" opacity="0.12" filter="url(#b3)"/><rect x="787.0" y="677.0" width="29" height="10" rx="5.0" fill="#000" opacity="1" filter="url(#b2)"/><rect x="790.0" y="667.0" width="23" height="12" rx="6.0" fill="#000" opacity="0.12" filter="url(#b3)"/><rect x="792.0" y="697.4" width="18" height="5" rx="2.5" fill="#000" opacity="0.1" filter="url(#b3)"/></svg>
<rect x="624.2" y="661.9" width="196.6" height="46.6" fill="none" stroke="#000" stroke-width="1.8"/>
<text x="611" y="422.9" font-size="16.2" text-anchor="end" fill="#000" stroke="#000">42</text>
<line x1="612.4" y1="417.3" x2="624" y2="417.3" stroke="#000" stroke-width="1.6"/>
<text x="611" y="471.0" font-size="16.2" text-anchor="end" fill="#000" stroke="#000">42</text>
<line x1="612.4" y1="465.4" x2="624" y2="465.4" stroke="#000" stroke-width="1.6"/>
<text x="611" y="539.1" font-size="16.2" text-anchor="end" fill="#000" stroke="#000">24</text>
<line x1="612.4" y1="533.5" x2="624" y2="533.5" stroke="#000" stroke-width="1.6"/>
<text x="611" y="581.1" font-size="16.2" text-anchor="end" fill="#000" stroke="#000">42</text>
<line x1="612.4" y1="575.5" x2="624" y2="575.5" stroke="#000" stroke-width="1.6"/>
<text x="611" y="642.1" font-size="16.2" text-anchor="end" fill="#000" stroke="#000">18</text>
<line x1="612.4" y1="636.5" x2="624" y2="636.5" stroke="#000" stroke-width="1.6"/>
<text x="611" y="671.2" font-size="16.2" text-anchor="end" fill="#000" stroke="#000">57</text>
<line x1="612.4" y1="665.6" x2="624" y2="665.6" stroke="#000" stroke-width="1.6"/>
<text x="611" y="713.2" font-size="16.2" text-anchor="end" fill="#000" stroke="#000">42</text>
<line x1="612.4" y1="707.6" x2="624" y2="707.6" stroke="#000" stroke-width="1.6"/>
<text x="852" y="411.5" font-size="17.8" text-anchor="middle" fill="#000" stroke="#000" transform="rotate(-90 852 411.5)">α-N</text>
<text x="852" y="495" font-size="17.8" text-anchor="middle" fill="#000" stroke="#000" transform="rotate(-90 852 495)">α-mCherry</text>
<line x1="830" y1="443.6" x2="830" y2="545.4" stroke="#000" stroke-width="1.6"/>
<text x="851.4" y="603.3" font-size="17.8" text-anchor="middle" fill="#000" stroke="#000" transform="rotate(-90 851.4 603.3)">α-Nluc</text>
<line x1="830" y1="552.4" x2="830" y2="653.4" stroke="#000" stroke-width="1.6"/>
<text x="851.4" y="686" font-size="17.8" text-anchor="middle" fill="#000" stroke="#000" transform="rotate(-90 851.4 686)">α-Tubulin</text>
<text x="884.2" y="16.6" font-size="21.6" text-anchor="start" fill="#000" stroke="#000">D)</text>
<rect x="952.3" y="24.0" width="319.9" height="165.4" fill="none" stroke="#000" stroke-width="1.9"/>
<line x1="945.2" y1="189.4" x2="952.3" y2="189.4" stroke="#000" stroke-width="1.8"/>
<text x="943.4" y="196.2" font-size="17.8" text-anchor="end" fill="#000" stroke="#000">0</text>
<line x1="945.2" y1="156.3" x2="952.3" y2="156.3" stroke="#000" stroke-width="1.8"/>
<text x="943.4" y="163.1" font-size="17.8" text-anchor="end" fill="#000" stroke="#000">20</text>
<line x1="945.2" y1="123.2" x2="952.3" y2="123.2" stroke="#000" stroke-width="1.8"/>
<text x="943.4" y="130.0" font-size="17.8" text-anchor="end" fill="#000" stroke="#000">40</text>
<line x1="945.2" y1="90.2" x2="952.3" y2="90.2" stroke="#000" stroke-width="1.8"/>
<text x="943.4" y="97.0" font-size="17.8" text-anchor="end" fill="#000" stroke="#000">60</text>
<line x1="945.2" y1="57.1" x2="952.3" y2="57.1" stroke="#000" stroke-width="1.8"/>
<text x="943.4" y="63.9" font-size="17.8" text-anchor="end" fill="#000" stroke="#000">80</text>
<line x1="945.2" y1="24.0" x2="952.3" y2="24.0" stroke="#000" stroke-width="1.8"/>
<text x="943.4" y="30.8" font-size="17.8" text-anchor="end" fill="#000" stroke="#000">100</text>
<line x1="952.4" y1="189.4" x2="952.4" y2="198.4" stroke="#000" stroke-width="1.8"/>
<text x="952.4" y="215.2" font-size="17.8" text-anchor="middle" fill="#000" stroke="#000">0</text>
<line x1="1005.3" y1="189.4" x2="1005.3" y2="198.4" stroke="#000" stroke-width="1.8"/>
<text x="1005.3" y="215.2" font-size="17.8" text-anchor="middle" fill="#000" stroke="#000">5</text>
<line x1="1058.2" y1="189.4" x2="1058.2" y2="198.4" stroke="#000" stroke-width="1.8"/>
<text x="1058.2" y="215.2" font-size="17.8" text-anchor="middle" fill="#000" stroke="#000">10</text>
<line x1="1111.1" y1="189.4" x2="1111.1" y2="198.4" stroke="#000" stroke-width="1.8"/>
<text x="1111.1" y="215.2" font-size="17.8" text-anchor="middle" fill="#000" stroke="#000">15</text>
<line x1="1164.0" y1="189.4" x2="1164.0" y2="198.4" stroke="#000" stroke-width="1.8"/>
<text x="1164.0" y="215.2" font-size="17.8" text-anchor="middle" fill="#000" stroke="#000">20</text>
<line x1="1216.9" y1="189.4" x2="1216.9" y2="198.4" stroke="#000" stroke-width="1.8"/>
<text x="1216.9" y="215.2" font-size="17.8" text-anchor="middle" fill="#000" stroke="#000">25</text>
<line x1="1269.8" y1="189.4" x2="1269.8" y2="198.4" stroke="#000" stroke-width="1.8"/>
<text x="1269.8" y="215.2" font-size="17.8" text-anchor="middle" fill="#000" stroke="#000">30</text>
<text x="1111" y="236.6" font-size="18.0" text-anchor="middle" fill="#000" stroke="#000">Genome position (kb)</text>
<text x="909.4" y="109.7" font-size="17.5" text-anchor="middle" fill="#000" stroke="#000" transform="rotate(-90 909.4 109.7)">Allele frequency (%)</text>
<text x="1110.5" y="45.6" font-size="18.0" text-anchor="middle" fill="#000" stroke="#000">rSARS-CoV-2/mCherry</text>
<line x1="952.3" y1="173.4" x2="1272.2" y2="173.4" stroke="#000" stroke-width="2.2" stroke-dasharray="2.5 2.2"/>
<line x1="1232.7" y1="109.0" x2="1232.7" y2="189.4" stroke="#000" stroke-width="1.7"/>
<circle cx="1232.7" cy="109.0" r="2.55" fill="#000"/>
<line x1="1262.4" y1="83.5" x2="1262.4" y2="189.4" stroke="#000" stroke-width="1.7"/>
<circle cx="1262.4" cy="83.5" r="2.55" fill="#000"/>
<line x1="1254.0" y1="175.5" x2="1254.0" y2="189.4" stroke="#000" stroke-width="2.9"/>
<path d="M1251.1 172.7L1256.9 172.7L1255.4 178.0L1252.6 178.0Z" fill="#000"/>
<text x="1221.6" y="86.2" font-size="14.2" text-anchor="middle" fill="#000" stroke="#000">N</text>
<text x="1223" y="103.2" font-size="14.2" text-anchor="middle" fill="#000" stroke="#000">C752T</text>
<text x="1251" y="60.4" font-size="14.2" text-anchor="middle" fill="#000" stroke="#000">E</text>
<text x="1253.5" y="78.2" font-size="14.2" text-anchor="middle" fill="#000" stroke="#000">V5A</text>
<rect x="952.3" y="264.6" width="319.9" height="166.0" fill="none" stroke="#000" stroke-width="1.9"/>
<line x1="945.2" y1="430.6" x2="952.3" y2="430.6" stroke="#000" stroke-width="1.8"/>
<text x="943.4" y="437.4" font-size="17.8" text-anchor="end" fill="#000" stroke="#000">0</text>
<line x1="945.2" y1="397.4" x2="952.3" y2="397.4" stroke="#000" stroke-width="1.8"/>
<text x="943.4" y="404.2" font-size="17.8" text-anchor="end" fill="#000" stroke="#000">20</text>
<line x1="945.2" y1="364.2" x2="952.3" y2="364.2" stroke="#000" stroke-width="1.8"/>
<text x="943.4" y="371.0" font-size="17.8" text-anchor="end" fill="#000" stroke="#000">40</text>
<line x1="945.2" y1="331.0" x2="952.3" y2="331.0" stroke="#000" stroke-width="1.8"/>
<text x="943.4" y="337.8" font-size="17.8" text-anchor="end" fill="#000" stroke="#000">60</text>
<line x1="945.2" y1="297.8" x2="952.3" y2="297.8" stroke="#000" stroke-width="1.8"/>
<text x="943.4" y="304.6" font-size="17.8" text-anchor="end" fill="#000" stroke="#000">80</text>
<line x1="945.2" y1="264.6" x2="952.3" y2="264.6" stroke="#000" stroke-width="1.8"/>
<text x="943.4" y="271.4" font-size="17.8" text-anchor="end" fill="#000" stroke="#000">100</text>
<line x1="952.4" y1="430.6" x2="952.4" y2="439.6" stroke="#000" stroke-width="1.8"/>
<text x="952.4" y="456.4" font-size="17.8" text-anchor="middle" fill="#000" stroke="#000">0</text>
<line x1="1005.3" y1="430.6" x2="1005.3" y2="439.6" stroke="#000" stroke-width="1.8"/>
<text x="1005.3" y="456.4" font-size="17.8" text-anchor="middle" fill="#000" stroke="#000">5</text>
<line x1="1058.2" y1="430.6" x2="1058.2" y2="439.6" stroke="#000" stroke-width="1.8"/>
<text x="1058.2" y="456.4" font-size="17.8" text-anchor="middle" fill="#000" stroke="#000">10</text>
<line x1="1111.1" y1="430.6" x2="1111.1" y2="439.6" stroke="#000" stroke-width="1.8"/>
<text x="1111.1" y="456.4" font-size="17.8" text-anchor="middle" fill="#000" stroke="#000">15</text>
<line x1="1164.0" y1="430.6" x2="1164.0" y2="439.6" stroke="#000" stroke-width="1.8"/>
<text x="1164.0" y="456.4" font-size="17.8" text-anchor="middle" fill="#000" stroke="#000">20</text>
<line x1="1216.9" y1="430.6" x2="1216.9" y2="439.6" stroke="#000" stroke-width="1.8"/>
<text x="1216.9" y="456.4" font-size="17.8" text-anchor="middle" fill="#000" stroke="#000">25</text>
<line x1="1269.8" y1="430.6" x2="1269.8" y2="439.6" stroke="#000" stroke-width="1.8"/>
<text x="1269.8" y="456.4" font-size="17.8" text-anchor="middle" fill="#000" stroke="#000">30</text>
<text x="1111" y="477.8" font-size="18.0" text-anchor="middle" fill="#000" stroke="#000">Genome position (kb)</text>
<text x="909.4" y="350.3" font-size="17.5" text-anchor="middle" fill="#000" stroke="#000" transform="rotate(-90 909.4 350.3)">Allele frequency (%)</text>
<text x="1110.5" y="286.2" font-size="18.0" text-anchor="middle" fill="#000" stroke="#000">rSARS-CoV-2/Nluc</text>
<line x1="952.3" y1="414.5" x2="1272.2" y2="414.5" stroke="#000" stroke-width="2.2" stroke-dasharray="2.5 2.2"/>
<line x1="1202.6" y1="391.8" x2="1202.6" y2="430.6" stroke="#000" stroke-width="1.7"/>
<circle cx="1202.6" cy="391.8" r="2.55" fill="#000"/>
<line x1="1231.5" y1="404.9" x2="1231.5" y2="430.6" stroke="#000" stroke-width="1.7"/>
<circle cx="1231.5" cy="404.9" r="2.55" fill="#000"/>
<text x="1198" y="365.8" font-size="14.2" text-anchor="middle" fill="#000" stroke="#000">S</text>
<text x="1200.2" y="384.3" font-size="14.2" text-anchor="middle" fill="#000" stroke="#000">H655Y</text>
<text x="1233" y="383.4" font-size="14.2" text-anchor="middle" fill="#000" stroke="#000">E</text>
<text x="1235.2" y="400.2" font-size="14.2" text-anchor="middle" fill="#000" stroke="#000">S6L</text>
<rect x="952.3" y="504.9" width="319.9" height="165.4" fill="none" stroke="#000" stroke-width="1.9"/>
<line x1="945.2" y1="670.3" x2="952.3" y2="670.3" stroke="#000" stroke-width="1.8"/>
<text x="943.4" y="677.1" font-size="17.8" text-anchor="end" fill="#000" stroke="#000">0</text>
<line x1="945.2" y1="637.2" x2="952.3" y2="637.2" stroke="#000" stroke-width="1.8"/>
<text x="943.4" y="644.0" font-size="17.8" text-anchor="end" fill="#000" stroke="#000">20</text>
<line x1="945.2" y1="604.1" x2="952.3" y2="604.1" stroke="#000" stroke-width="1.8"/>
<text x="943.4" y="610.9" font-size="17.8" text-anchor="end" fill="#000" stroke="#000">40</text>
<line x1="945.2" y1="571.1" x2="952.3" y2="571.1" stroke="#000" stroke-width="1.8"/>
<text x="943.4" y="577.9" font-size="17.8" text-anchor="end" fill="#000" stroke="#000">60</text>
<line x1="945.2" y1="538.0" x2="952.3" y2="538.0" stroke="#000" stroke-width="1.8"/>
<text x="943.4" y="544.8" font-size="17.8" text-anchor="end" fill="#000" stroke="#000">80</text>
<line x1="945.2" y1="504.9" x2="952.3" y2="504.9" stroke="#000" stroke-width="1.8"/>
<text x="943.4" y="511.7" font-size="17.8" text-anchor="end" fill="#000" stroke="#000">100</text>
<line x1="952.4" y1="670.3" x2="952.4" y2="679.3" stroke="#000" stroke-width="1.8"/>
<text x="952.4" y="696.1" font-size="17.8" text-anchor="middle" fill="#000" stroke="#000">0</text>
<line x1="1005.3" y1="670.3" x2="1005.3" y2="679.3" stroke="#000" stroke-width="1.8"/>
<text x="1005.3" y="696.1" font-size="17.8" text-anchor="middle" fill="#000" stroke="#000">5</text>
<line x1="1058.2" y1="670.3" x2="1058.2" y2="679.3" stroke="#000" stroke-width="1.8"/>
<text x="1058.2" y="696.1" font-size="17.8" text-anchor="middle" fill="#000" stroke="#000">10</text>
<line x1="1111.1" y1="670.3" x2="1111.1" y2="679.3" stroke="#000" stroke-width="1.8"/>
<text x="1111.1" y="696.1" font-size="17.8" text-anchor="middle" fill="#000" stroke="#000">15</text>
<line x1="1164.0" y1="670.3" x2="1164.0" y2="679.3" stroke="#000" stroke-width="1.8"/>
<text x="1164.0" y="696.1" font-size="17.8" text-anchor="middle" fill="#000" stroke="#000">20</text>
<line x1="1216.9" y1="670.3" x2="1216.9" y2="679.3" stroke="#000" stroke-width="1.8"/>
<text x="1216.9" y="696.1" font-size="17.8" text-anchor="middle" fill="#000" stroke="#000">25</text>
<line x1="1269.8" y1="670.3" x2="1269.8" y2="679.3" stroke="#000" stroke-width="1.8"/>
<text x="1269.8" y="696.1" font-size="17.8" text-anchor="middle" fill="#000" stroke="#000">30</text>
<text x="1111" y="717.5" font-size="18.0" text-anchor="middle" fill="#000" stroke="#000">Genome position (kb)</text>
<text x="909.4" y="590.6" font-size="17.5" text-anchor="middle" fill="#000" stroke="#000" transform="rotate(-90 909.4 590.6)">Allele frequency (%)</text>
<text x="1110.5" y="526.5" font-size="18.0" text-anchor="middle" fill="#000" stroke="#000">rSARS-CoV-2/mCherry-Nluc</text>
<line x1="952.3" y1="654.3" x2="1272.2" y2="654.3" stroke="#000" stroke-width="2.2" stroke-dasharray="2.5 2.2"/>
<line x1="994.3" y1="661.2" x2="994.3" y2="670.3" stroke="#000" stroke-width="1.7"/>
<circle cx="994.3" cy="661.2" r="2.55" fill="#000"/>
<line x1="1028.8" y1="658.7" x2="1028.8" y2="670.3" stroke="#000" stroke-width="1.7"/>
<circle cx="1028.8" cy="658.7" r="2.55" fill="#000"/>
<line x1="1253.1" y1="657.4" x2="1253.1" y2="670.3" stroke="#000" stroke-width="2.9"/>
<path d="M1250.1999999999998 654.6L1256.0 654.6L1254.5 659.9L1251.6999999999998 659.9Z" fill="#000"/>
</svg></body></html>
